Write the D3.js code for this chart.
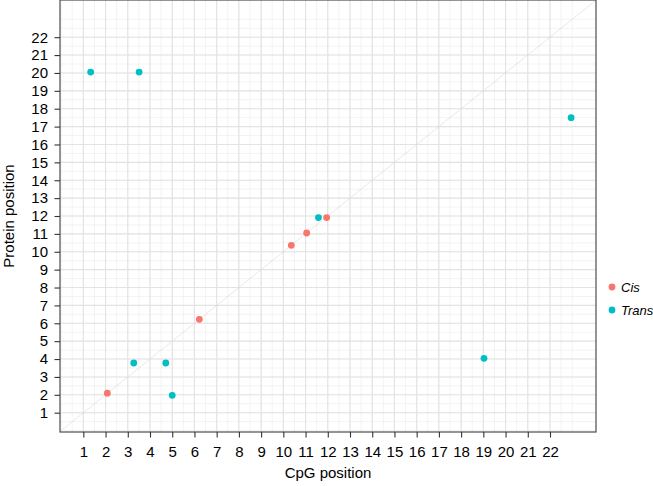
<!DOCTYPE html>
<html>
<head>
<meta charset="utf-8">
<script src="https://cdn.jsdelivr.net/npm/d3@7"></script>
<style>
  body { margin: 0; background: #fff; }
  text { font-family: "Liberation Sans", Arial, sans-serif; }
</style>
</head>
<body>
<div id="chart"></div>
<script>
// tick labels
var ticks = d3.range(1, 23);

// series values: [CpG position, protein position]
var cisX = [2.08, 6.22, 10.36, 11.05, 11.95];
var cisY = [2.09, 6.22, 10.36, 11.05, 11.91];
var transX = [1.33, 3.51, 3.27, 4.71, 5.0, 11.58, 19.03, 22.95];
var transY = [20.05, 20.05, 3.78, 3.78, 1.97, 11.91, 4.04, 17.5];

var groups = ["Cis", "Trans"];
var colors = ["#F8766D", "#00BFC4"];

var data = [];
cisX.forEach(function(v, i) { data.push({x: v, y: cisY[i], g: "Cis"}); });
transX.forEach(function(v, i) { data.push({x: v, y: transY[i], g: "Trans"}); });

var margin = {top: 0, right: 57, bottom: 54, left: 60},
    width = 653 - margin.left - margin.right,
    height = 486 - margin.top - margin.bottom;

var svg = d3.select("#chart")
  .append("svg")
    .attr("width", 653)
    .attr("height", 486)
  .append("g")
    .attr("transform", "translate(" + margin.left + "," + margin.top + ")");

var x = d3.scaleLinear().domain([-0.05, 24.07]).range([0, width]);
var y = d3.scaleLinear().domain([-0.08, 24.08]).range([height, 0]);
var color = d3.scaleOrdinal().domain(groups).range(colors);

// minor grid
var minor = d3.range(0, 23.5, 0.5);
svg.append("g").selectAll("line")
  .data(minor).enter().append("line")
    .attr("x1", function(d) { return x(d); })
    .attr("x2", function(d) { return x(d); })
    .attr("y1", 0).attr("y2", height)
    .attr("stroke", "#EBEBEB").attr("stroke-width", 0.6);
svg.append("g").selectAll("line")
  .data(minor).enter().append("line")
    .attr("y1", function(d) { return y(d); })
    .attr("y2", function(d) { return y(d); })
    .attr("x1", 0).attr("x2", width)
    .attr("stroke", "#EBEBEB").attr("stroke-width", 0.6);

// major grid
svg.append("g").selectAll("line")
  .data(ticks).enter().append("line")
    .attr("x1", function(d) { return x(d); })
    .attr("x2", function(d) { return x(d); })
    .attr("y1", 0).attr("y2", height)
    .attr("stroke", "#E3E3E3").attr("stroke-width", 1.1);
svg.append("g").selectAll("line")
  .data(ticks).enter().append("line")
    .attr("y1", function(d) { return y(d); })
    .attr("y2", function(d) { return y(d); })
    .attr("x1", 0).attr("x2", width)
    .attr("stroke", "#E3E3E3").attr("stroke-width", 1.1);

// diagonal y = x
svg.append("line")
  .attr("x1", x(-0.05)).attr("y1", y(-0.05))
  .attr("x2", x(24.07)).attr("y2", y(24.07))
  .attr("stroke", "#D0D0D0").attr("stroke-width", 0.5);

// points
svg.selectAll("circle")
  .data(data).enter().append("circle")
    .attr("cx", function(d) { return x(d.x); })
    .attr("cy", function(d) { return y(d.y); })
    .attr("r", 3.4)
    .attr("fill", function(d) { return color(d.g); });

// panel border
svg.append("rect")
  .attr("x", 0).attr("y", 0)
  .attr("width", width).attr("height", height)
  .attr("fill", "none").attr("stroke", "#4D4D4D").attr("stroke-width", 1.2);

// axes
var xAxis = svg.append("g")
  .attr("transform", "translate(0," + height + ")")
  .call(d3.axisBottom(x).tickValues(ticks).tickSize(5.5).tickPadding(9));
var yAxis = svg.append("g")
  .call(d3.axisLeft(y).tickValues(ticks).tickSize(5.5).tickPadding(6.5));
[xAxis, yAxis].forEach(function(a) {
  a.select(".domain").remove();
  a.selectAll(".tick line").attr("stroke", "#333").attr("stroke-width", 1.1);
  a.selectAll(".tick text").attr("fill", "#000")
    .style("font-size", "15px").style("font-family", "Liberation Sans, Arial, sans-serif");
});

// axis titles
svg.append("text")
  .attr("x", width / 2).attr("y", height + 46)
  .attr("text-anchor", "middle")
  .style("font-size", "15px")
  .text("CpG position");
svg.append("text")
  .attr("transform", "translate(" + (-46) + "," + (height / 2) + ")rotate(-90)")
  .attr("text-anchor", "middle")
  .style("font-size", "15px")
  .text("Protein position");

// legend
var legend = svg.append("g")
  .attr("transform", "translate(" + (width + 16) + "," + 287 + ")");
groups.forEach(function(g, i) {
  legend.append("circle")
    .attr("cx", 0).attr("cy", i * 23)
    .attr("r", 3.4).attr("fill", color(g));
  legend.append("text")
    .attr("x", 9).attr("y", i * 23)
    .attr("dy", "0.35em")
    .style("font-size", "13px").style("font-style", "italic")
    .text(g);
});
</script>
</body>
</html>
